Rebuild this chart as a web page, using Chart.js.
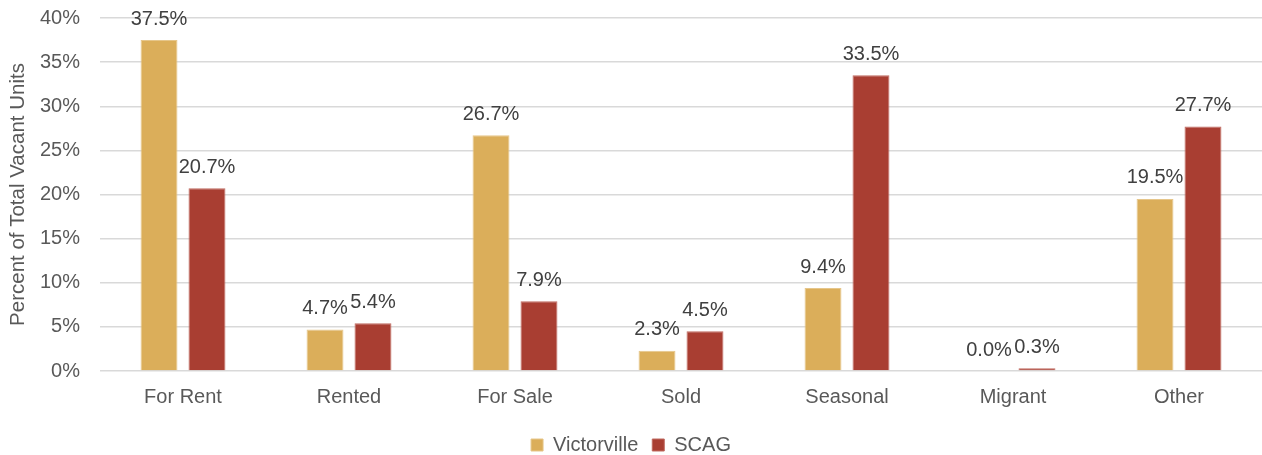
<!DOCTYPE html>
<html>
<head>
<meta charset="utf-8">
<script src="https://cdn.jsdelivr.net/npm/chart.js@4/dist/chart.umd.min.js"></script>
<style>
  html, body { margin: 0; padding: 0; background: #fff; }
  #wrap { width: 1262px; height: 455px; position: relative; }
</style>
</head>
<body>
<div id="wrap"><canvas id="c"></canvas></div>
<script>
const categories = ["For Rent", "Rented", "For Sale", "Sold", "Seasonal", "Migrant", "Other"];
const victorville = [37.5, 4.7, 26.7, 2.3, 9.4, 0.0, 19.5];
const scag = [20.7, 5.4, 7.9, 4.5, 33.5, 0.3, 27.7];
const seriesNames = ["Victorville", "SCAG"];
const yTicks = [0, 5, 10, 15, 20, 25, 30, 35, 40];

const FONT = "'Liberation Sans', Arial, sans-serif";

const valueLabels = {
  id: 'valueLabels',
  afterDatasetsDraw(chart) {
    const ctx = chart.ctx;
    ctx.save();
    ctx.font = "20px " + FONT;
    ctx.fillStyle = "#404040";
    ctx.textAlign = "center";
    ctx.textBaseline = "middle";
    chart.data.datasets.forEach((ds, i) => {
      const meta = chart.getDatasetMeta(i);
      meta.data.forEach((bar, j) => {
        ctx.fillText(ds.data[j].toFixed(1) + "%", bar.x, bar.y - 21);
      });
    });
    ctx.restore();
  }
};

new Chart(document.getElementById('c'), {
  type: 'bar',
  data: {
    labels: categories,
    datasets: [
      { label: seriesNames[0], data: victorville, backgroundColor: '#DBAE5A', borderColor: '#E6C68A', borderWidth: 1,
        categoryPercentage: 0.578, barPercentage: 0.77 },
      { label: seriesNames[1], data: scag, backgroundColor: '#A93E32', borderColor: '#C06A60', borderWidth: 1,
        categoryPercentage: 0.578, barPercentage: 0.77 }
    ]
  },
  options: {
    responsive: true,
    maintainAspectRatio: false,
    animation: false,
    layout: { padding: { top: 0, right: 0, left: 0, bottom: -10 } },
    plugins: {
      legend: {
        position: 'bottom',
        labels: {
          font: { family: FONT, size: 20 },
          color: '#595959',
          boxWidth: 12, boxHeight: 12,
          padding: 14
        }
      },
      tooltip: { enabled: false }
    },
    scales: {
      x: {
        grid: { display: false },
        border: { display: false },
        ticks: { font: { family: FONT, size: 20 }, color: '#595959', padding: 6 },
        afterFit(axis) { axis.height = 50; }
      },
      y: {
        min: 0, max: 40,
        afterBuildTicks(axis) { axis.ticks = yTicks.map(v => ({ value: v })); },
        afterFit(axis) { axis.width = 100; axis.paddingTop = 18; axis.paddingBottom = -20; },
        grid: { color: '#D9D9D9', lineWidth: 1.5, drawTicks: false },
        border: { display: false },
        ticks: {
          font: { family: FONT, size: 20 }, color: '#595959', padding: 20,
          callback: v => v + '%'
        },
        title: {
          display: true, text: 'Percent of Total Vacant Units',
          font: { family: FONT, size: 20.5 }, color: '#595959', padding: { top: 6, bottom: 2 }
        }
      }
    }
  },
  plugins: [valueLabels]
});
</script>
</body>
</html>
